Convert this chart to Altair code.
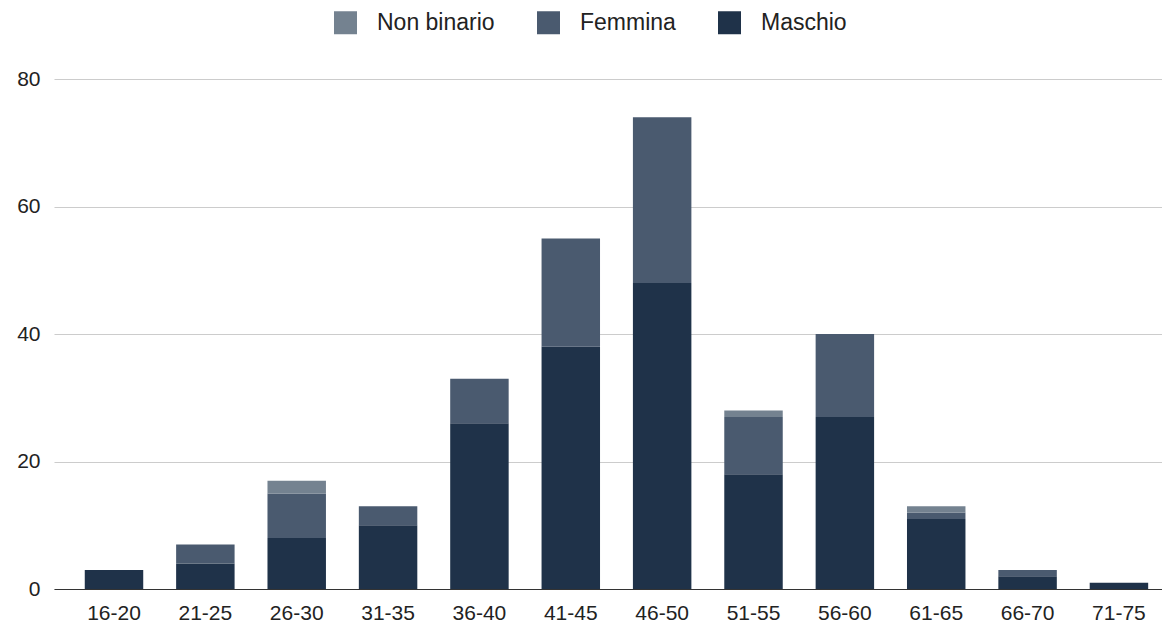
import altair as alt
import pandas as pd

categories = ["16-20", "21-25", "26-30", "31-35", "36-40", "41-45",
              "46-50", "51-55", "56-60", "61-65", "66-70", "71-75"]
maschio = [3, 4, 8, 10, 26, 38, 48, 18, 27, 11, 2, 1]
femmina = [0, 3, 7, 3, 7, 17, 26, 9, 13, 1, 1, 0]
non_binario = [0, 0, 2, 0, 0, 0, 0, 1, 0, 1, 0, 0]

series_names = ["Non binario", "Femmina", "Maschio"]
series_colors = ["#748290", "#4a5a6f", "#1f3249"]
stack_order = {"Maschio": 0, "Femmina": 1, "Non binario": 2}

rows = []
for name, vals in (("Maschio", maschio), ("Femmina", femmina), ("Non binario", non_binario)):
    for c, v in zip(categories, vals):
        rows.append({"fascia": c, "genere": name, "valore": v, "ord": stack_order[name]})
df = pd.DataFrame(rows)

FONT = "Liberation Sans"

chart = alt.Chart(df).mark_bar().encode(
    x=alt.X("fascia:N", sort=categories,
            scale=alt.Scale(paddingInner=0.36, paddingOuter=0.244, align=0.69),
            axis=alt.Axis(title=None, labelAngle=0, ticks=False, labelPadding=13,
                          labelFontSize=21, labelColor="#222222", labelFont=FONT,
                          domainColor="#333333", domainWidth=1.2, grid=False)),
    y=alt.Y("valore:Q", stack="zero",
            scale=alt.Scale(domain=[0, 80]),
            axis=alt.Axis(title=None, values=[0, 20, 40, 60, 80], ticks=False,
                          domain=False, labelPadding=14, labelFontSize=21,
                          labelColor="#222222", labelFont=FONT,
                          gridColor="#cccccc", gridWidth=1.2)),
    color=alt.Color("genere:N",
                    scale=alt.Scale(domain=series_names, range=series_colors),
                    legend=alt.Legend(title=None, orient="none", direction="horizontal",
                                      legendX=280, legendY=-68,
                                      symbolType="square", symbolSize=529,
                                      symbolStrokeWidth=0, labelFontSize=23,
                                      labelFont=FONT, labelColor="#222222",
                                      labelOffset=20, columnPadding=42,
                                      symbolOpacity=1)),
    order=alt.Order("ord:Q", sort="ascending"),
).properties(
    width=1108,
    height=510,
    padding={"left": 8, "top": 3, "right": 0, "bottom": 0},
).configure_view(stroke=None)

chart.save("out.html", embed_options={"renderer": "svg", "actions": False})
